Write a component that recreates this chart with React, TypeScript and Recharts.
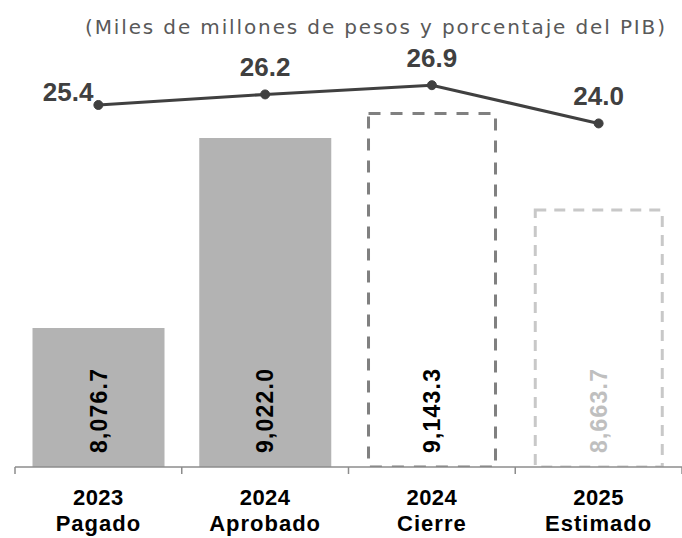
import React from 'react';
import { ComposedChart, Bar, Line, XAxis, YAxis, Cell, LabelList, Rectangle } from 'recharts';

const YEARS = ['2023', '2024', '2024', '2025'];
const STAGES = ['Pagado', 'Aprobado', 'Cierre', 'Estimado'];
const AMOUNTS = [8076.7, 9022.0, 9143.3, 8663.7];
const PCT_PIB = [25.4, 26.2, 26.9, 24.0];
const SUBTITLE = '(Miles de millones de pesos y porcentaje del PIB)';

const data = YEARS.map((y, i) => ({
  key: `${y}-${STAGES[i]}`,
  year: y,
  stage: STAGES[i],
  amount: AMOUNTS[i],
  pct: PCT_PIB[i],
}));

const W = 682;
const H = 538;
const MARGIN = { top: 60, right: 0, bottom: 11, left: 15 };
const BAND = (W - MARGIN.left - MARGIN.right) / data.length;

const BAR_STYLES = [
  { fill: '#b3b3b3', stroke: 'none', dash: undefined, width: 0, text: '#000000' },
  { fill: '#b3b3b3', stroke: 'none', dash: undefined, width: 0, text: '#000000' },
  { fill: '#ffffff', stroke: '#808080', dash: '12 10', width: 3, text: '#000000' },
  { fill: '#ffffff', stroke: '#c8c8c8', dash: '11 8', width: 3, text: '#bfbfbf' },
];

const AXIS_COLOR = '#8c8c8c';
const LINE_COLOR = '#404040';

const fmt = (v: number) =>
  v.toLocaleString('en-US', { minimumFractionDigits: 1, maximumFractionDigits: 1 });

const CategoryTick = (props: any) => {
  const { x, y, index } = props;
  const d = data[index];
  const isLast = index === data.length - 1;
  return (
    <g>
      <line x1={x - BAND / 2} x2={x - BAND / 2} y1={y} y2={y + 7} stroke={AXIS_COLOR} strokeWidth={1.5} />
      {isLast && (
        <line x1={x + BAND / 2} x2={x + BAND / 2} y1={y} y2={y + 7} stroke={AXIS_COLOR} strokeWidth={1.5} />
      )}
      <text
        x={x}
        y={y + 38}
        textAnchor="middle"
        fontFamily="'Liberation Sans', Arial, sans-serif"
        fontWeight="bold"
        fontSize={22}
        letterSpacing={0.5}
        fill="#000"
      >
        {d.year}
      </text>
      <text
        x={x}
        y={y + 64}
        textAnchor="middle"
        fontFamily="'Liberation Sans', Arial, sans-serif"
        fontWeight="bold"
        fontSize={22}
        letterSpacing={1}
        fill="#000"
      >
        {d.stage}
      </text>
    </g>
  );
};

const BarShape = (props: any) => {
  const { x, y, width, height, index } = props;
  const s = BAR_STYLES[index];
  const inset = s.width ? s.width / 2 + 1 : 0;
  return (
    <Rectangle
      x={x + inset}
      y={y}
      width={width - 2 * inset}
      height={height}
      fill={s.fill}
      stroke={s.stroke}
      strokeWidth={s.width}
      strokeDasharray={s.dash}
    />
  );
};

const BarValueLabel = (props: any) => {
  const { x, y, width, height, value, index } = props;
  const cx = x + width / 2;
  const by = y + height - 14;
  return (
    <text
      x={cx}
      y={by}
      transform={`rotate(-90 ${cx} ${by})`}
      textAnchor="start"
      dominantBaseline="central"
      fontFamily="'Liberation Sans', Arial, sans-serif"
      fontWeight="bold"
      fontSize={23}
      letterSpacing={1.2}
      fill={BAR_STYLES[index].text}
    >
      {fmt(value)}
    </text>
  );
};

const LineValueLabel = (props: any) => {
  const { x, y, value, index } = props;
  const first = index === 0;
  return (
    <text
      x={first ? x - 5 : x}
      y={first ? y - 4 : y - 18}
      textAnchor={first ? 'end' : 'middle'}
      fontFamily="'Liberation Sans', Arial, sans-serif"
      fontWeight="bold"
      fontSize={26}
      fill={LINE_COLOR}
    >
      {value.toFixed(1)}
    </text>
  );
};

export default function App() {
  return (
    <div style={{ position: 'absolute', left: 0, top: 0, width: W, height: H, background: '#fff' }}>
      <svg width={W} height={50} style={{ position: 'absolute', left: 0, top: 0 }}>
        <text
          x={85}
          y={34}
          textLength={580}
          lengthAdjust="spacing"
          fontFamily="'DejaVu Sans', sans-serif"
          fontSize={20}
          fill="#595959"
        >
          {SUBTITLE}
        </text>
      </svg>
      <div style={{ position: 'absolute', left: 0, top: 0 }}>
        <ComposedChart width={W} height={H} data={data} margin={MARGIN} barCategoryGap="10.5%">
          <XAxis
            dataKey="key"
            height={60}
            tick={<CategoryTick />}
            tickLine={false}
            tickSize={0}
            tickMargin={0}
            interval={0}
            axisLine={{ stroke: AXIS_COLOR, strokeWidth: 1.5 }}
          />
          <YAxis yAxisId="amt" hide domain={[7385, 9410]} allowDataOverflow />
          <YAxis yAxisId="pct" hide domain={[-2.05, 28.81]} allowDataOverflow />
          <Bar yAxisId="amt" dataKey="amount" shape={<BarShape />} isAnimationActive={false}>
            {data.map((d, i) => (
              <Cell key={d.key} fill={BAR_STYLES[i].fill} />
            ))}
            <LabelList dataKey="amount" content={<BarValueLabel />} />
          </Bar>
          <Line
            yAxisId="pct"
            dataKey="pct"
            stroke={LINE_COLOR}
            strokeWidth={3}
            dot={{ r: 4.5, fill: LINE_COLOR, stroke: LINE_COLOR, strokeWidth: 1 }}
            isAnimationActive={false}
          >
            <LabelList dataKey="pct" content={<LineValueLabel />} />
          </Line>
        </ComposedChart>
      </div>
    </div>
  );
}
